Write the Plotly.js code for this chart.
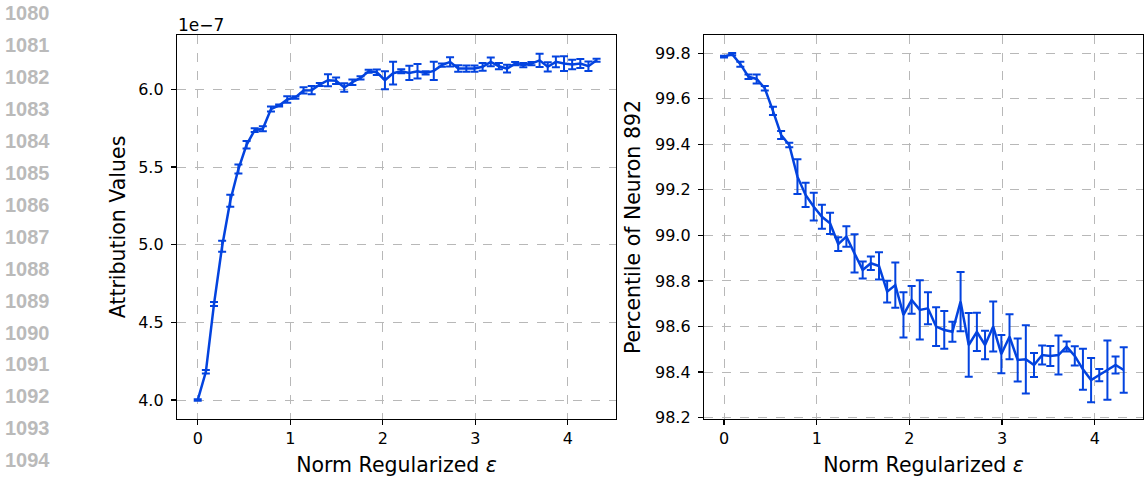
<!DOCTYPE html>
<html>
<head>
<meta charset="utf-8">
<script src="https://cdn.plot.ly/plotly-3.0.1.min.js"></script>
<style>
  html, body { margin: 0; padding: 0; background: #fff; }
  #chart { width: 1145px; height: 477px; }
</style>
</head>
<body>
<div id="chart"></div>
<script>
// Norm regularized epsilon (shared x values)
const epsValues = [0, 0.088, 0.176, 0.264, 0.352, 0.44, 0.528, 0.616, 0.704, 0.792,
  0.88, 0.968, 1.056, 1.144, 1.232, 1.32, 1.408, 1.496, 1.584, 1.672,
  1.76, 1.848, 1.936, 2.024, 2.112, 2.2, 2.288, 2.376, 2.464, 2.552,
  2.64, 2.728, 2.816, 2.904, 2.992, 3.08, 3.168, 3.256, 3.344, 3.432,
  3.52, 3.608, 3.696, 3.784, 3.872, 3.96, 4.048, 4.136, 4.224, 4.312];

// Attribution values (in units of 1e-7)
const attributionMean = [4.00, 4.182, 4.618, 4.99, 5.283, 5.487, 5.643, 5.737, 5.746, 5.873,
  5.896, 5.935, 5.948, 5.993, 5.995, 6.031, 6.059, 6.055, 6.012, 6.046,
  6.074, 6.117, 6.11, 6.059, 6.104, 6.117, 6.106, 6.117, 6.106, 6.119,
  6.156, 6.177, 6.134, 6.134, 6.134, 6.145, 6.177, 6.149, 6.134, 6.166,
  6.156, 6.166, 6.187, 6.145, 6.177, 6.166, 6.16, 6.166, 6.149, 6.187];
const attributionErr = [0.005, 0.011, 0.013, 0.035, 0.039, 0.029, 0.024, 0.012, 0.016, 0.016,
  0.007, 0.021, 0.008, 0.02, 0.027, 0.01, 0.039, 0.021, 0.027, 0.018,
  0.01, 0.01, 0.018, 0.058, 0.073, 0.013, 0.046, 0.047, 0.01, 0.059,
  0.01, 0.03, 0.021, 0.02, 0.02, 0.025, 0.028, 0.02, 0.025, 0.01,
  0.013, 0.01, 0.043, 0.03, 0.034, 0.048, 0.03, 0.029, 0.03, 0.01];

// Percentile of neuron 892
const percentileMean = [99.785, 99.796, 99.752, 99.697, 99.687, 99.646, 99.547, 99.441, 99.397, 99.258,
  99.178, 99.126, 99.082, 99.053, 98.962, 98.995, 98.921, 98.848, 98.878, 98.866,
  98.753, 98.782, 98.651, 98.717, 98.673, 98.68, 98.6, 98.585, 98.577, 98.709,
  98.519, 98.577, 98.519, 98.6, 98.479, 98.555, 98.453, 98.456, 98.431, 98.475,
  98.471, 98.475, 98.512, 98.471, 98.412, 98.365, 98.387, 98.409, 98.431, 98.409];
const percentileErr = [0.004, 0.005, 0.011, 0.01, 0.02, 0.01, 0.018, 0.018, 0.01, 0.076,
  0.053, 0.061, 0.053, 0.047, 0.03, 0.045, 0.084, 0.037, 0.03, 0.06,
  0.048, 0.099, 0.099, 0.061, 0.13, 0.07, 0.085, 0.083, 0.044, 0.13,
  0.14, 0.084, 0.063, 0.11, 0.084, 0.099, 0.094, 0.15, 0.053, 0.042,
  0.044, 0.086, 0.022, 0.042, 0.09, 0.097, 0.027, 0.13, 0.037, 0.1];

// Tick labels
const xTickVals = [0, 1, 2, 3, 4];
const leftYTickVals = [4.0, 4.5, 5.0, 5.5, 6.0];
const leftYTickText = ['4.0', '4.5', '5.0', '5.5', '6.0'];
const rightYTickVals = [98.2, 98.4, 98.6, 98.8, 99.0, 99.2, 99.4, 99.6, 99.8];
const rightYTickText = ['98.2', '98.4', '98.6', '98.8', '99.0', '99.2', '99.4', '99.6', '99.8'];

// Page line numbers
const lineNumbers = ['1080', '1081', '1082', '1083', '1084', '1085', '1086', '1087',
  '1088', '1089', '1090', '1091', '1092', '1093', '1094'];

const W = 1145, H = 477;
const BLUE = '#0343df';
const FONT = 'DejaVu Sans, sans-serif';
const TICK_SIZE = 16;
const TITLE_SIZE = 20.5;

const traces = [
  {
    x: epsValues, y: attributionMean, xaxis: 'x', yaxis: 'y',
    type: 'scatter', mode: 'lines',
    line: { color: BLUE, width: 2.5 },
    error_y: { type: 'data', array: attributionErr, visible: true, color: BLUE, thickness: 2, width: 4 },
    hoverinfo: 'x+y'
  },
  {
    x: epsValues, y: percentileMean, xaxis: 'x2', yaxis: 'y2',
    type: 'scatter', mode: 'lines',
    line: { color: BLUE, width: 2.5 },
    error_y: { type: 'data', array: percentileErr, visible: true, color: BLUE, thickness: 2, width: 4 },
    hoverinfo: 'x+y'
  }
];

function axisCommon() {
  return {
    showline: true, mirror: true, linecolor: '#000', linewidth: 1.2,
    ticks: 'outside', ticklen: 5, tickwidth: 1.2, tickcolor: '#000',
    showgrid: true, gridcolor: '#b8b8b8', gridwidth: 1, griddash: 'dash',
    zeroline: false,
    tickfont: { family: FONT, size: TICK_SIZE, color: '#000' }
  };
}

const px = v => v / W;
const py = v => 1 - v / H;

const layout = {
  width: W, height: H,
  margin: { l: 0, r: 0, t: 0, b: 0 },
  paper_bgcolor: '#fff', plot_bgcolor: '#fff',
  showlegend: false,
  font: { family: FONT, color: '#000' },
  xaxis: Object.assign(axisCommon(), {
    domain: [px(177), px(616)], anchor: 'y',
    range: [-0.224, 4.522], tickvals: xTickVals,
    title: { text: 'Norm Regularized <i>ε</i>', font: { family: FONT, size: TITLE_SIZE }, standoff: 11 }
  }),
  yaxis: Object.assign(axisCommon(), {
    domain: [py(419), py(35)], anchor: 'x',
    range: [3.878, 6.35], tickvals: leftYTickVals, ticktext: leftYTickText,
    ticklabelstandoff: 4,
    title: { text: 'Attribution Values', font: { family: FONT, size: TITLE_SIZE }, standoff: 7 }
  }),
  xaxis2: Object.assign(axisCommon(), {
    domain: [px(704), px(1143)], anchor: 'y2',
    range: [-0.216, 4.52], tickvals: xTickVals,
    title: { text: 'Norm Regularized <i>ε</i>', font: { family: FONT, size: TITLE_SIZE }, standoff: 11 }
  }),
  yaxis2: Object.assign(axisCommon(), {
    domain: [py(419), py(35)], anchor: 'x2',
    range: [98.194, 99.88], tickvals: rightYTickVals, ticktext: rightYTickText,
    ticklabelstandoff: 4,
    title: { text: 'Percentile of Neuron 892', font: { family: FONT, size: TITLE_SIZE }, standoff: 8 }
  }),
  annotations: []
};

layout.annotations.push({
  xref: 'paper', yref: 'paper', x: px(176), y: py(25),
  xanchor: 'left', yanchor: 'middle', showarrow: false,
  text: '1e\u22127', font: { family: FONT, size: 17, color: '#000' }
});

lineNumbers.forEach((t, i) => {
  layout.annotations.push({
    xref: 'paper', yref: 'paper', x: px(3), y: py(13.5 + i * 31.9),
    xanchor: 'left', yanchor: 'middle', showarrow: false,
    text: '<b>' + t + '</b>', font: { family: 'Liberation Sans, Arial, sans-serif', size: 20, color: '#bababa' }
  });
});

Plotly.newPlot('chart', traces, layout, { staticPlot: true, displayModeBar: false });
</script>
</body>
</html>
